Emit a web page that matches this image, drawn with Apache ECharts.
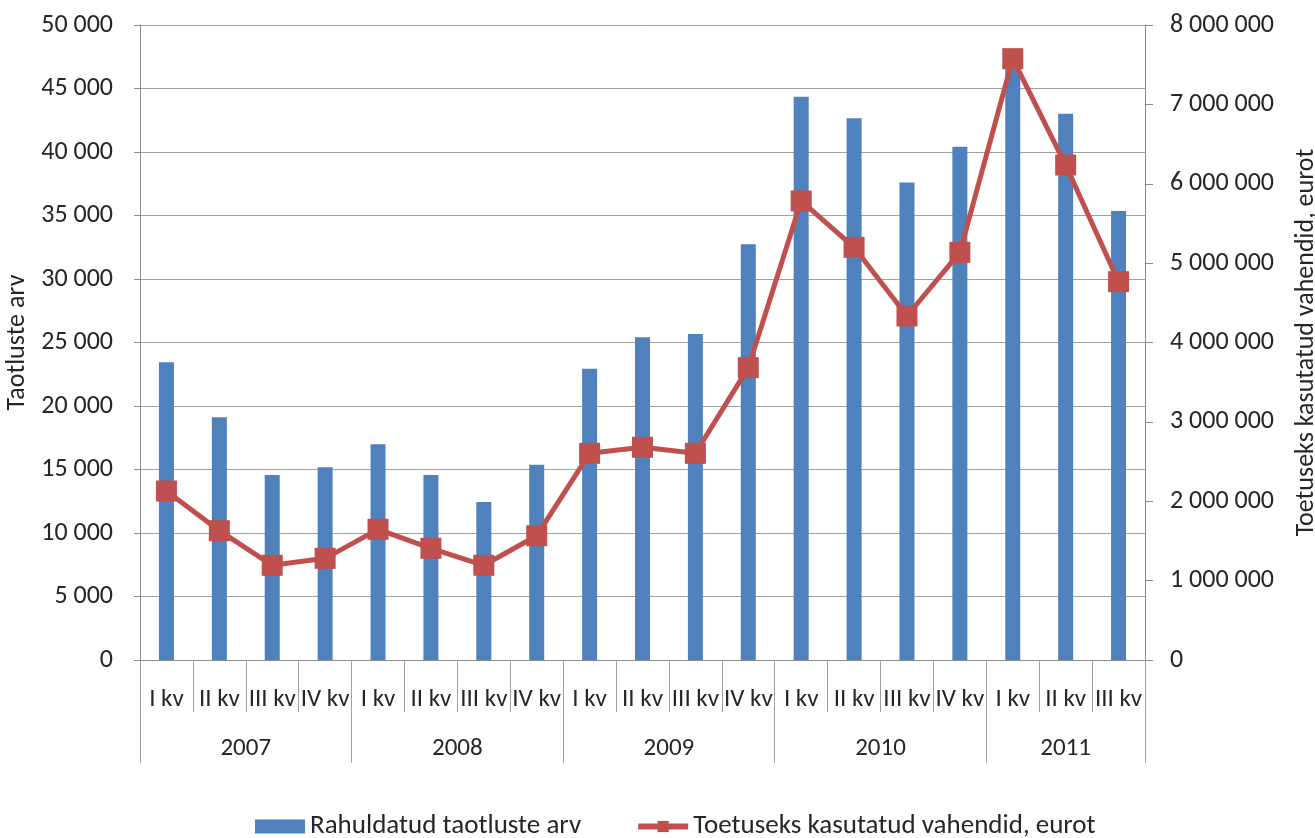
<!DOCTYPE html>
<html>
<head>
<meta charset="utf-8">
<script src="https://cdn.jsdelivr.net/npm/echarts@6/dist/echarts.min.js"></script>
<style>
html,body{margin:0;padding:0;background:#fff;}
#chart{width:1315px;height:838px;}
</style>
</head>
<body>
<div id="chart"></div>
<script>
var quarters = ['I kv','II kv','III kv','IV kv','I kv','II kv','III kv','IV kv','I kv','II kv','III kv','IV kv','I kv','II kv','III kv','IV kv','I kv','II kv','III kv'];
var years = ['2007','2008','2009','2010','2011'];
var yearQuarterCounts = [4,4,4,4,3];
var applications = [23450,19110,14570,15170,16980,14570,12440,15380,22940,25410,25670,32730,44360,42650,37590,40420,47100,43020,35350];
var funds = [2129000,1629000,1193000,1281000,1646000,1407000,1193000,1566000,2604000,2680000,2604000,3683000,5783000,5199000,4334000,5136000,7576000,6236000,4766000];
var seriesNames = ['Rahuldatud taotluste arv','Toetuseks kasutatud vahendid, eurot'];
var leftAxisName = 'Taotluste arv';
var rightAxisName = 'Toetuseks kasutatud vahendid, eurot';

var bounds = [0], mids = [];
yearQuarterCounts.forEach(function(c, i){
  var s = bounds[bounds.length-1];
  mids.push(s + c/2);
  bounds.push(s + c);
});

function fmt(v){
  return String(Math.round(v)).replace(/\B(?=(\d{3})+(?!\d))/g, ' ');
}

var FONT = 'Carlito, Lato, sans-serif';
var TXT = '#262626';
var chart = echarts.init(document.getElementById('chart'));
chart.setOption({
  animation: false,
  textStyle: {fontFamily: FONT},
  grid: {left: 140, right: 170, top: 25, bottom: 178, containLabel: false, outerBoundsMode: 'none'},
  legend: {
    left: 250, top: 808,
    itemWidth: 50, itemHeight: 14, itemGap: 54,
    textStyle: {fontFamily: FONT, fontSize: 27, color: TXT},
    data: [
      {name: seriesNames[0], icon: 'rect'},
      {name: seriesNames[1], lineStyle: {width: 6}}
    ]
  },
  xAxis: [{
    type: 'category',
    data: quarters,
    boundaryGap: true,
    axisLine: {lineStyle: {color: '#8c8c8c', width: 1}},
    axisTick: {show: true, length: 52, interval: 0, lineStyle: {color: '#a0a0a0'}},
    axisLabel: {interval: 0, margin: 27, fontSize: 25, lineHeight: 26, color: TXT, fontFamily: FONT}
  }, {
    type: 'value',
    position: 'bottom',
    min: 0, max: quarters.length,
    axisLine: {show: false},
    splitLine: {show: false},
    axisTick: {show: true, length: 103, customValues: bounds, lineStyle: {color: '#a0a0a0'}},
    axisLabel: {
      customValues: mids, margin: 76, fontSize: 25, lineHeight: 26, color: TXT, fontFamily: FONT,
      formatter: function(v){
        for (var i = 0; i < mids.length; i++) if (Math.abs(mids[i] - v) < 1e-6) return years[i];
        return '';
      }
    }
  }],
  yAxis: [{
    type: 'value',
    min: 0, max: 50000, interval: 5000,
    name: leftAxisName,
    nameLocation: 'middle', nameRotate: 90, nameGap: 106,
    nameTextStyle: {fontSize: 26, color: TXT, fontFamily: FONT},
    axisLine: {show: true, lineStyle: {color: '#8c8c8c'}},
    axisTick: {show: true, length: 6, lineStyle: {color: '#8c8c8c'}},
    splitLine: {show: true, lineStyle: {color: '#a0a0a0', width: 1}},
    axisLabel: {margin: 27, fontSize: 26, color: TXT, fontFamily: FONT, formatter: fmt}
  }, {
    type: 'value',
    min: 0, max: 8000000, interval: 1000000,
    position: 'right',
    name: rightAxisName,
    nameLocation: 'middle', nameRotate: 90, nameGap: 148,
    nameTextStyle: {fontSize: 26, color: TXT, fontFamily: FONT},
    axisLine: {show: true, lineStyle: {color: '#8c8c8c'}},
    axisTick: {show: true, length: 8, lineStyle: {color: '#8c8c8c'}},
    splitLine: {show: false},
    axisLabel: {margin: 25, fontSize: 26, color: TXT, fontFamily: FONT, formatter: fmt}
  }],
  series: [{
    name: seriesNames[0],
    type: 'bar',
    xAxisIndex: 0, yAxisIndex: 0,
    data: applications,
    barWidth: 15,
    itemStyle: {color: '#4F81BD'}
  }, {
    name: seriesNames[1],
    type: 'line',
    xAxisIndex: 0, yAxisIndex: 1,
    data: funds,
    symbol: 'rect', symbolSize: 21,
    lineStyle: {color: '#C0504D', width: 5},
    itemStyle: {color: '#C0504D'},
    z: 3
  }]
});
</script>
</body>
</html>
